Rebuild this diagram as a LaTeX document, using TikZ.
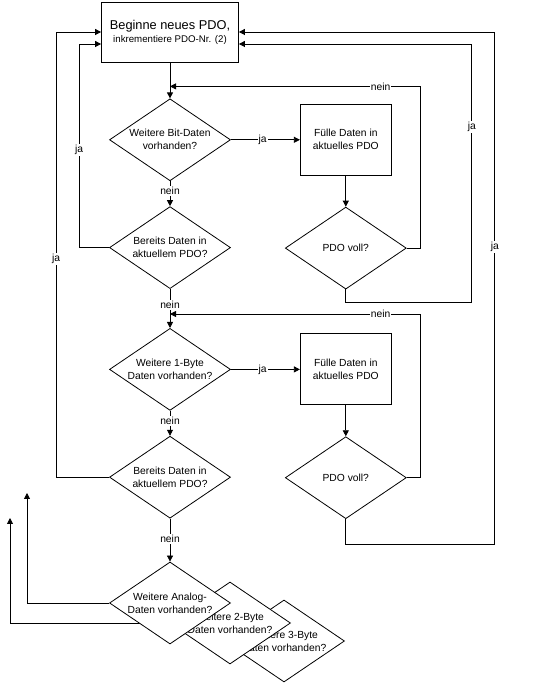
\documentclass[tikz,border=0pt]{standalone}
\usepackage{fontspec}
\setmainfont{Liberation Sans}
\usetikzlibrary{positioning,shapes,arrows.meta}
\def\dx{69pt}
\def\dy{25pt}
\tikzstyle{decision}=[draw,diamond,aspect=1.46,minimum width=121pt,minimum height=82pt,inner sep=-4pt,fill=white,align=center,font=\fontsize{10.3}{13}\selectfont]
\tikzstyle{process}=[draw,rectangle,minimum width=91pt,minimum height=71pt,align=center,font=\fontsize{10.3}{13}\selectfont]
\tikzstyle{lbl}=[fill=white,inner sep=1pt,font=\fontsize{10.3}{12}\selectfont]
\newcommand{\newDecision}[4]{\node[decision,#3](#1)[#4]{#2};}
\newcommand{\newProcess}[4]{\node[process,#3](#1)[#4]{#2};}
\newcommand{\newTransition}[4]{\path[->] (#1) edge [#4] node[lbl,#4] {#3} (#2);}
\begin{document}
\begin{tikzpicture}[x=1pt,y=1pt,node distance=\dy and \dx,
        >={Triangle[length=6pt,width=6pt]},line width=0.8pt
        ]
        \useasboundingbox (0,0) rectangle (548,685);
        \newProcess{start}{\fontsize{12.8}{15}\selectfont Beginne neues PDO,\\\fontsize{9.7}{12}\selectfont inkrementiere PDO-Nr. (2)}{minimum width=137pt,minimum height=60pt}{at={(170,653)}}
        \newDecision{bit}{Weitere Bit-Daten\\vorhanden?}{}{below=36pt of start}
        \newDecision{bereit1}{Bereits Daten in\\aktuellem PDO?}{}{below=of bit}
        \newDecision{byte1}{Weitere 1-Byte\\Daten vorhanden?}{}{below=39pt of bereit1}
        \newDecision{bereit2}{Bereits Daten in\\aktuellem PDO?}{}{below=of byte1}
        \newProcess{fill1}{Fülle Daten in\\aktuelles PDO}{}{right=of bit}
        \newDecision{voll1}{PDO voll?}{}{below=31pt of fill1}
        \newProcess{fill2}{Fülle Daten in\\aktuelles PDO}{}{right=of byte1}
        \newDecision{voll2}{PDO voll?}{}{below=31pt of fill2}
        % stacked questions at the bottom
        \newDecision{byte3}{Weitere 3-Byte\\Daten vorhanden?}{}{at={(284,44)}}
        \newDecision{byte2}{Weitere 2-Byte\\Daten vorhanden?}{}{at={(230,62)}}
        \coordinate (upB) at (10,167);
        \draw[->] (byte2.west) -| (upB);
        \newDecision{analog}{Weitere Analog-\\Daten vorhanden?}{}{below=43pt of bereit2}
        \coordinate (upA) at (27,192);
        \draw[->] (analog.west) -| (upA);

        \draw[->] (start) -- (bit);
        \newTransition{bit}{fill1}{ja}{pos=0.46}
        \newTransition{bit}{bereit1}{nein}{pos=0.4}
        \draw[->] (fill1) -- (voll1);
        \draw[->] (voll1.east) -- ++(14,0) |- node[lbl,pos=0.58]{nein} ([yshift=12pt]bit.north);
        \draw[->] (voll1.south) -- ++(0,-13) -- ++(126,0) |- node[lbl,pos=0.34]{ja} ([yshift=-12pt]start.east);
        \draw[->] (bereit1.west) -- ++(-30,0) |- node[lbl,pos=0.24]{ja} ([yshift=-12pt]start.west);
        \newTransition{bereit1}{byte1}{nein}{pos=0.41}
        \newTransition{byte1}{fill2}{ja}{pos=0.46}
        \newTransition{byte1}{bereit2}{nein}{pos=0.4}
        \draw[->] (fill2) -- (voll2);
        \draw[->] (voll2.east) -- ++(14,0) |- node[lbl,pos=0.58]{nein} ([yshift=14pt]byte1.north);
        \draw[->] (voll2.south) -- ++(0,-25) -- ++(149,0) |- node[lbl,pos=0.29]{ja} (start.east);
        \draw[->] (bereit2.west) -- ++(-53,0) |- node[lbl,pos=0.245]{ja} (start.west);
        \newTransition{bereit2}{analog}{nein}{pos=0.47}
\end{tikzpicture}
\end{document}
